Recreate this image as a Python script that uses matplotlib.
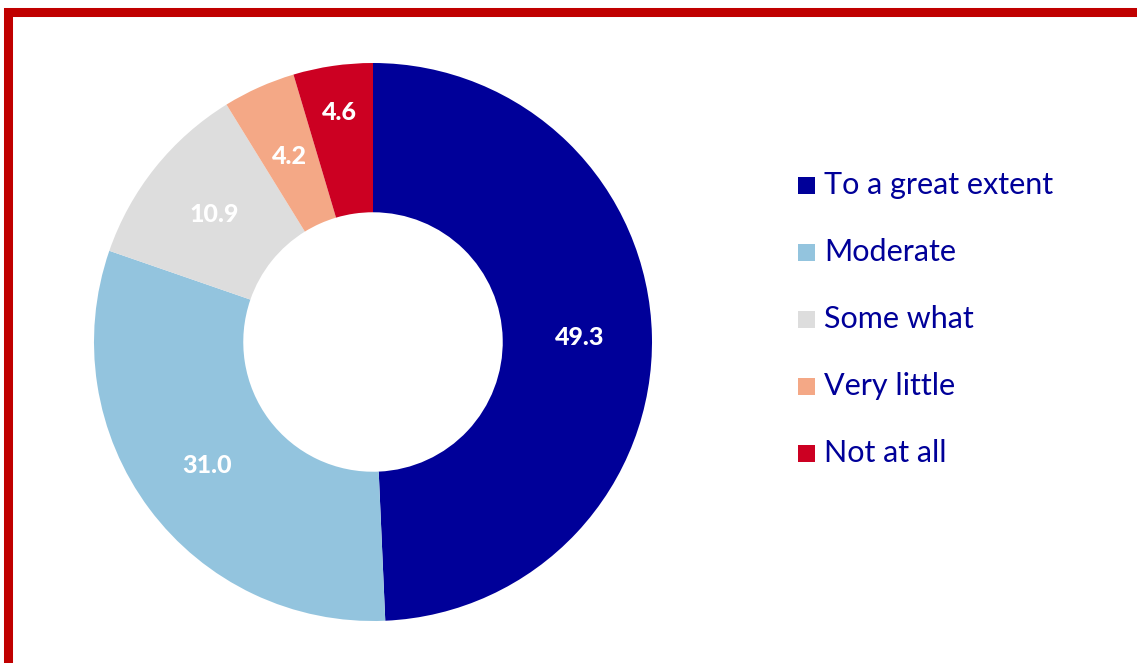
import matplotlib.pyplot as plt
import numpy as np
from matplotlib.patches import Rectangle

plt.rcParams['font.family'] = ['Lato', 'DejaVu Sans']

categories = ['To a great extent', 'Moderate', 'Some what', 'Very little', 'Not at all']
shares = [49.3, 31.0, 10.9, 4.2, 4.6]
colors = ['#000099', '#93C4DE', '#DDDDDD', '#F4A886', '#CC0022']
label_r = [0.74, 0.74, 0.73, 0.73, 0.83]

W, H = 1137, 663
fig = plt.figure(figsize=(W / 100, H / 100), dpi=100)
fig.patch.set_facecolor('white')

# donut: centre (373, 342) px, outer radius 279 px
cx, cy, R = 373, 342, 279
ax = fig.add_axes([(cx - R) / W, (H - cy - R) / H, 2 * R / W, 2 * R / H])
wedges, _ = ax.pie(shares, colors=colors, startangle=90, counterclock=False,
                   radius=1.0, wedgeprops=dict(width=0.535, linewidth=0))
ax.set_xlim(-1, 1)
ax.set_ylim(-1, 1)
ax.set_aspect('equal')
ax.axis('off')

for w, v, r in zip(wedges, shares, label_r):
    ang = np.deg2rad((w.theta1 + w.theta2) / 2)
    ax.text(r * np.cos(ang), r * np.sin(ang), f'{v:.1f}', ha='center', va='center',
            color='white', fontsize=18, fontweight='black')

# legend, drawn row by row
y0, step = 185, 67
for i, (lab, c) in enumerate(zip(categories, colors)):
    y = y0 + i * step
    fig.patches.append(Rectangle(((798) / W, (H - y - 9) / H), 17 / W, 17 / H,
                                 transform=fig.transFigure, facecolor=c, edgecolor='none'))
    fig.text(824 / W, (H - y) / H, lab, ha='left', va='center', color='#000099', fontsize=22)

# red frame, open to the right and bottom
fig.patches.append(Rectangle((8 / W, -0.2), 1.2, (H - 11.5) / H + 0.2,
                             transform=fig.transFigure, facecolor='none',
                             edgecolor='#C00000', linewidth=6.5))

fig.savefig('out.png', dpi=100)
